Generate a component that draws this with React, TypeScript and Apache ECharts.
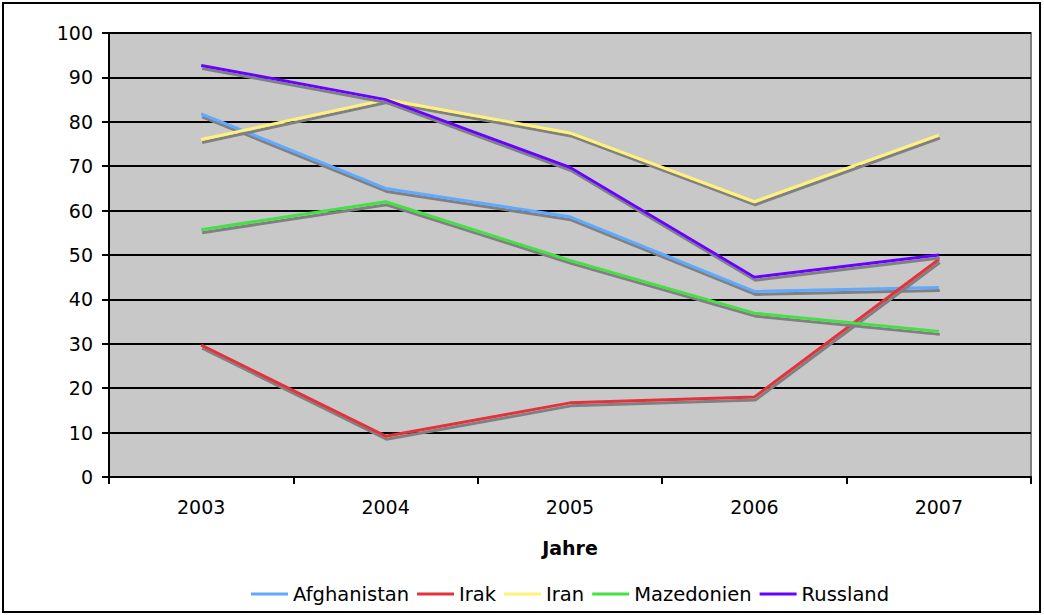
import React, { useEffect, useRef } from "react";
import * as echarts from "echarts";

const years = ["2003", "2004", "2005", "2006", "2007"];
const afghanistan = [81.8, 65.0, 58.6, 41.8, 42.7];
const irak = [29.7, 9.2, 16.7, 18.0, 49.0];
const iran = [76.0, 85.0, 77.5, 62.0, 77.0];
const mazedonien = [55.7, 62.0, 48.8, 36.9, 32.8];
const russland = [92.7, 85.0, 69.7, 45.0, 50.0];

const seriesNames = ["Afghanistan", "Irak", "Iran", "Mazedonien", "Russland"];
const seriesData = [afghanistan, irak, iran, mazedonien, russland];
const seriesColors = ["#5FAAFF", "#E3323A", "#FFF27A", "#44E044", "#6A00FF"];

const FONT = "DejaVu Sans";
const FS = 19;

export default function App() {
  const ref = useRef<HTMLDivElement>(null);
  useEffect(() => {
    if (!ref.current) return;
    const chart = echarts.init(ref.current, null, { renderer: "svg" });
    chart.setOption({
      animation: false,
      textStyle: { fontFamily: FONT },
      graphic: [
        {
          type: "rect",
          shape: { x: 3, y: 3, width: 1037, height: 609 },
          style: { fill: "none", stroke: "#000", lineWidth: 2 },
          z: -10,
        },
      ],
      grid: {
        left: 109,
        right: 13,
        top: 33,
        bottom: 138,
        show: true,
        backgroundColor: "#C8C8C8",
        borderColor: "#808080",
        borderWidth: 2,
      },
      legend: {
        top: 579,
        left: 246,
        itemWidth: 37,
        itemHeight: 20,
        itemGap: 8,
        icon: "path://M0,8.5 L37,8.5 L37,11.5 L0,11.5 Z",
        textStyle: { fontFamily: FONT, fontSize: 19.5, color: "#000" },
        data: seriesNames,
      },
      xAxis: {
        type: "category",
        data: years,
        boundaryGap: true,
        name: "Jahre",
        nameLocation: "middle",
        nameGap: 61,
        nameTextStyle: { fontFamily: FONT, fontSize: FS, fontWeight: "bold", color: "#000" },
        axisLine: { lineStyle: { color: "#000", width: 2 } },
        axisTick: { show: true, length: 7, lineStyle: { color: "#000", width: 2 } },
        axisLabel: { fontFamily: FONT, fontSize: FS, color: "#000", margin: 20 },
      },
      yAxis: {
        type: "value",
        min: 0,
        max: 100,
        interval: 10,
        axisLine: { show: true, lineStyle: { color: "#000", width: 2 } },
        axisTick: { show: true, length: 7, lineStyle: { color: "#000", width: 2 } },
        axisLabel: { fontFamily: FONT, fontSize: FS, color: "#000", margin: 16 },
        splitLine: { show: true, lineStyle: { color: "#000", width: 2 } },
      },
      series: seriesNames.map((name, i) => ({
        name,
        type: "line",
        data: seriesData[i],
        symbol: "none",
        showSymbol: false,
        color: seriesColors[i],
        lineStyle: {
          color: seriesColors[i],
          width: 3,
          shadowColor: "#808080",
          shadowBlur: 0,
          shadowOffsetX: 1,
          shadowOffsetY: 3,
        },
      })),
    });
    return () => chart.dispose();
  }, []);
  return (
    <div
      ref={ref}
      style={{ position: "fixed", left: 0, top: 0, width: 1044, height: 615, background: "#fff" }}
    />
  );
}
